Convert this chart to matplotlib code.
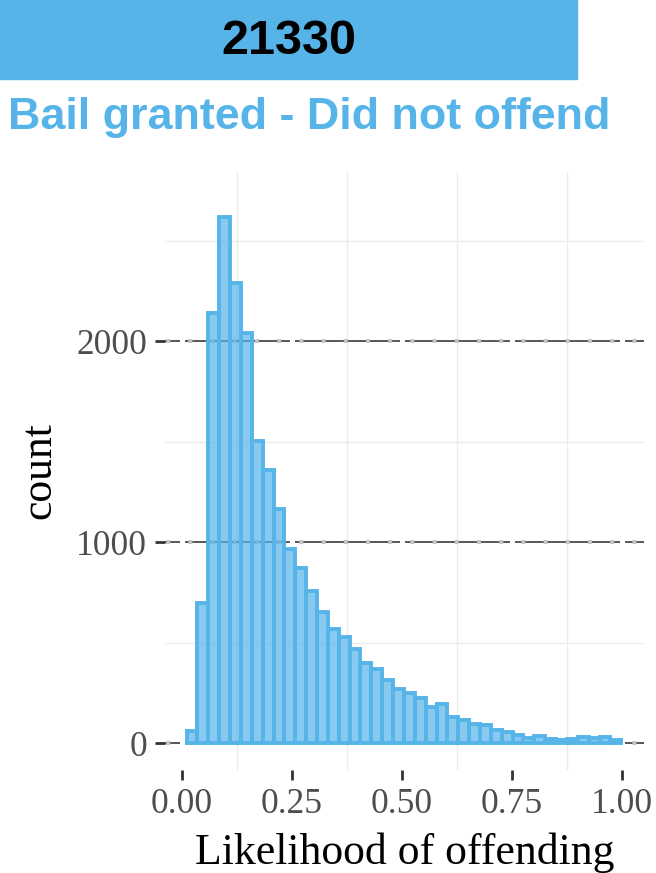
import numpy as np
import matplotlib
matplotlib.use("Agg")
import matplotlib.pyplot as plt
from matplotlib.patches import Rectangle

plt.rcParams['lines.scale_dashes'] = False

# histogram of predicted likelihood, 40 bins
bin_left = 0.0115
bin_width = 0.0247
counts = [60, 695, 2140, 2615, 2290, 2040, 1505, 1360, 1165, 965,
          870, 755, 650, 567, 530, 468, 400, 370, 313, 268,
          251, 224, 179, 193, 131, 114, 96, 88, 65, 55,
          40, 23, 33, 18, 15, 20, 28, 23, 28, 15]
x_ticks = [0.0, 0.25, 0.5, 0.75, 1.0]
x_ticklabels = ["0.00", "0.25", "0.50", "0.75", "1.00"]
y_ticks = [0, 1000, 2000]
y_minor = [500, 1500, 2500]
x_minor = [0.125, 0.375, 0.625, 0.875]
total = "21330"
subtitle = "Bail granted - Did not offend"

blue = "#56B4E9"
px = 72 / 100.0  # points per pixel

fig = plt.figure(figsize=(6.56, 8.73), dpi=100)

# header box
fig.patches.append(Rectangle((0, 1 - 79 / 873), 577 / 656, 79 / 873,
                             transform=fig.transFigure, color=blue, zorder=0))
fig.text(289 / 656, 1 - 41 / 873, total, ha='center', va='center',
         family='Liberation Sans', weight='bold', fontsize=35, color='black')
fig.text(8 / 656, 1 - 117 / 873, subtitle, ha='left', va='center',
         family='Liberation Sans', weight='bold', fontsize=32.3, color=blue)

ax = fig.add_axes([165 / 656, (873 - 770) / 873, 479 / 656, 598 / 873])
ax.set_xlim(-0.0375, 1.0511)
ax.set_ylim(-134, 2841)
for s in ax.spines.values():
    s.set_visible(False)

# minor grid
for v in x_minor:
    ax.axvline(v, color='#ebebeb', lw=1.0, zorder=0)
for v in y_minor:
    ax.axhline(v, color='#ebebeb', lw=1.0, zorder=0)
# major grid: dark broken line with grey squares on top
for v in y_ticks:
    ax.axhline(v, color='#4a4a4a', lw=1.3, zorder=1,
               linestyle=(90 * px, (105 * px, 5 * px)))
    ax.axhline(v, color='#c4c4c4', lw=4 * px, zorder=1, solid_capstyle='butt',
               dash_capstyle='butt', linestyle=(21 * px, (4 * px, 18.2 * px)))

lefts = bin_left + bin_width * np.arange(len(counts))
ax.bar(lefts, counts, width=bin_width, align='edge',
       facecolor=matplotlib.colors.to_rgba(blue, 0.7), edgecolor=blue,
       linewidth=2.8, zorder=2)

ax.set_xticks(x_ticks)
ax.set_xticklabels(x_ticklabels)
ax.set_yticks(y_ticks)
ax.tick_params(axis='both', length=7, width=2, color='#333333',
               labelcolor='#4d4d4d', labelsize=25.5, pad=6)
for lab in ax.get_xticklabels() + ax.get_yticklabels():
    lab.set_family('Liberation Serif')

ax.set_xlabel("Likelihood of offending", family='Liberation Serif',
              fontsize=31.5, color='black', labelpad=8)
ax.set_ylabel("count", family='Liberation Serif', fontsize=31.5,
              color='black', labelpad=12)

fig.savefig("out.png", dpi=100)
